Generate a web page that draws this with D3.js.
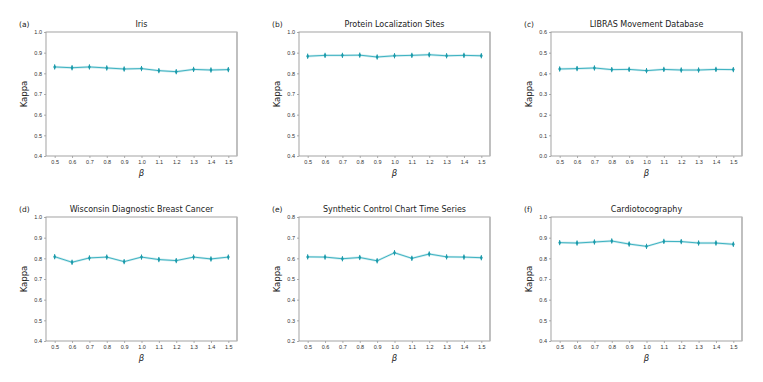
<!DOCTYPE html>
<html>
<head>
<meta charset="utf-8">
<script src="https://cdn.jsdelivr.net/npm/d3@7"></script>
<style>
  body { margin: 0; background: #fff; }
  svg { display: block; font-family: "DejaVu Sans", sans-serif; }
</style>
</head>
<body>
<svg id="chart" width="763" height="382"></svg>
<script>
// beta values on the x axis
const betas = [0.5, 0.6, 0.7, 0.8, 0.9, 1.0, 1.1, 1.2, 1.3, 1.4, 1.5];

// kappa per dataset
const iris = [0.831, 0.827, 0.831, 0.826, 0.821, 0.823, 0.813, 0.808, 0.819, 0.816, 0.818];
const protein = [0.883, 0.887, 0.887, 0.888, 0.879, 0.885, 0.887, 0.890, 0.885, 0.887, 0.885];
const libras = [0.421, 0.423, 0.426, 0.418, 0.419, 0.413, 0.419, 0.416, 0.416, 0.419, 0.418];
const wisconsin = [0.808, 0.781, 0.802, 0.806, 0.784, 0.806, 0.794, 0.789, 0.806, 0.797, 0.806];
const synthetic = [0.607, 0.606, 0.598, 0.604, 0.588, 0.627, 0.600, 0.621, 0.607, 0.606, 0.603];
const cardio = [0.876, 0.874, 0.879, 0.884, 0.869, 0.858, 0.882, 0.881, 0.874, 0.874, 0.868];

const titles = ["Iris", "Protein Localization Sites", "LIBRAS Movement Database",
  "Wisconsin Diagnostic Breast Cancer", "Synthetic Control Chart Time Series", "Cardiotocography"];
const letters = ["(a)", "(b)", "(c)", "(d)", "(e)", "(f)"];
const yRanges = [[0.4, 1.0], [0.4, 1.0], [0.0, 0.6], [0.4, 1.0], [0.2, 0.8], [0.4, 1.0]];
const series = [iris, protein, libras, wisconsin, synthetic, cardio];

// panel positions (left, top) in the page
const lefts = [46, 299, 551];
const tops = [32, 217];
const panelW = 191, panelH = 124;

const lineColor = "#3fb3c2";
const markColor = "#1b9aaa";

const svg = d3.select("#chart");

series.forEach(function (vals, i) {
  const col = i % 3, row = Math.floor(i / 3);
  const g = svg.append("g")
    .attr("transform", "translate(" + lefts[col] + "," + tops[row] + ")");

  const x = d3.scaleLinear().domain([0.45, 1.55]).range([0, panelW]);
  const y = d3.scaleLinear().domain(yRanges[i]).range([panelH, 0]);

  // x axis
  const xAxis = g.append("g")
    .attr("transform", "translate(0," + panelH + ")")
    .call(d3.axisBottom(x).tickValues(betas).tickFormat(d3.format(".1f")).tickSize(2).tickPadding(2));
  // y axis
  const yAxis = g.append("g")
    .call(d3.axisLeft(y).ticks(6).tickFormat(d3.format(".1f")).tickSize(2).tickPadding(2));

  [xAxis, yAxis].forEach(function (a) {
    a.select(".domain").remove();
    a.selectAll(".tick line").attr("stroke", "#777").attr("stroke-width", 0.6);
    a.selectAll(".tick text").attr("fill", "#333").style("font-size", "5.5px");
  });

  // frame
  g.append("rect")
    .attr("width", panelW).attr("height", panelH)
    .attr("fill", "none").attr("stroke", "#999").attr("stroke-width", 0.9);
  g.append("line")
    .attr("x1", panelW).attr("x2", panelW).attr("y1", 0).attr("y2", panelH)
    .attr("stroke", "#bbb").attr("stroke-width", 1.6);

  const pts = betas.map((b, j) => [b, vals[j]]);

  // faint band
  g.append("path")
    .datum(pts)
    .attr("fill", lineColor).attr("opacity", 0.25)
    .attr("d", d3.area().x(d => x(d[0])).y0(d => y(d[1]) - 1.2).y1(d => y(d[1]) + 1.2));

  g.append("path")
    .datum(pts)
    .attr("fill", "none").attr("stroke", lineColor).attr("stroke-width", 1)
    .attr("d", d3.line().x(d => x(d[0])).y(d => y(d[1])));

  // error ticks and markers
  g.selectAll(".err").data(pts).enter().append("line")
    .attr("x1", d => x(d[0])).attr("x2", d => x(d[0]))
    .attr("y1", d => y(d[1]) - 2.6).attr("y2", d => y(d[1]) + 2.6)
    .attr("stroke", markColor).attr("stroke-width", 0.9);
  g.selectAll(".mk").data(pts).enter().append("path")
    .attr("transform", d => "translate(" + x(d[0]) + "," + y(d[1]) + ")")
    .attr("d", d3.symbol().type(d3.symbolDiamond).size(7))
    .attr("fill", markColor);

  // title and panel letter
  g.append("text")
    .attr("x", panelW / 2).attr("y", -5)
    .attr("text-anchor", "middle")
    .style("font-size", "8px").attr("fill", "#222")
    .text(titles[i]);
  g.append("text")
    .attr("x", -27).attr("y", -5)
    .style("font-size", "7.5px").attr("fill", "#222")
    .text(letters[i]);

  // axis labels
  g.append("text")
    .attr("transform", "translate(-19," + (panelH / 2) + ") rotate(-90)")
    .attr("text-anchor", "middle")
    .style("font-size", "8.5px").attr("fill", "#222")
    .text("Kappa");
  g.append("text")
    .attr("x", panelW / 2).attr("y", panelH + 20)
    .attr("text-anchor", "middle")
    .style("font-size", "8.5px").style("font-style", "italic").attr("fill", "#222")
    .text("β");
});
</script>
</body>
</html>
